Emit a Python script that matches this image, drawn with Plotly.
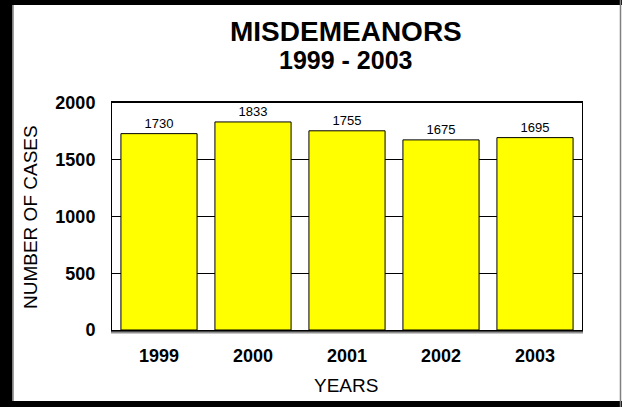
import plotly.graph_objects as go

years = ["1999", "2000", "2001", "2002", "2003"]
cases = [1730, 1833, 1755, 1675, 1695]
y_ticks = [0, 500, 1000, 1500, 2000]

W, H = 622, 407
L, R, T, B = 112, 40, 103, 77
PW, PH = W - L - R, H - T - B

def px(x):
    return (x - L) / PW

def py(y):
    return (H - B - y) / PH

FONT = "Liberation Sans, Arial, sans-serif"

fig = go.Figure(go.Bar(
    x=years, y=cases,
    marker=dict(color="#FFFF00", line=dict(color="#000000", width=1)),
    text=[str(v) for v in cases], textposition="outside",
    textfont=dict(family=FONT, size=13, color="#000000"),
    cliponaxis=False,
))

shapes = [
    # outer frame
    dict(type="rect", xref="paper", yref="paper", x0=px(-1), x1=px(12.5), y0=py(-1), y1=py(H + 1),
         fillcolor="#000000", line=dict(width=0), layer="above"),
    dict(type="rect", xref="paper", yref="paper", x0=px(-1), x1=px(W + 1), y0=py(-1), y1=py(5),
         fillcolor="#000000", line=dict(width=0), layer="above"),
    dict(type="rect", xref="paper", yref="paper", x0=px(-1), x1=px(W + 1), y0=py(401), y1=py(H + 1),
         fillcolor="#000000", line=dict(width=0), layer="above"),
    dict(type="line", xref="paper", yref="paper", x0=px(620.5), x1=px(620.5), y0=py(0), y1=py(H),
         line=dict(color="#808080", width=1.5), layer="above"),
    dict(type="line", xref="paper", yref="paper", x0=px(13.5), x1=px(13.5), y0=py(5), y1=py(401),
         line=dict(color="#A0A0A0", width=1), layer="above"),
    # floor shadow
    dict(type="line", xref="paper", yref="paper", x0=px(111), x1=px(583), y0=py(332.5), y1=py(332.5),
         line=dict(color="#909090", width=2), layer="above"),
]

annotations = [
    dict(text="<b>MISDEMEANORS</b>", xref="paper", yref="paper", x=px(346), y=py(31.5),
         xanchor="center", yanchor="middle", showarrow=False,
         font=dict(family=FONT, size=28, color="#000000")),
    dict(text="<b>1999 - 2003</b>", xref="paper", yref="paper", x=px(345), y=py(60),
         xanchor="center", yanchor="middle", showarrow=False,
         font=dict(family=FONT, size=25, color="#000000")),
    dict(text="NUMBER OF CASES", xref="paper", yref="paper", x=px(30), y=py(217),
         xanchor="center", yanchor="middle", showarrow=False, textangle=-90,
         font=dict(family=FONT, size=19, color="#000000")),
    dict(text="YEARS", xref="paper", yref="paper", x=px(346), y=py(385),
         xanchor="center", yanchor="middle", showarrow=False,
         font=dict(family=FONT, size=19, color="#000000")),
]

fig.update_layout(
    width=W, height=H,
    margin=dict(l=L, r=R, t=T, b=B, pad=0),
    paper_bgcolor="#FFFFFF", plot_bgcolor="#FFFFFF",
    bargap=0.19,
    showlegend=False,
    shapes=shapes,
    annotations=annotations,
    xaxis=dict(
        type="category",
        showline=True, linecolor="#000000", linewidth=2, mirror=True,
        showgrid=False, ticks="", ticklabelstandoff=8,
        tickfont=dict(family=FONT, size=18, color="#000000", weight="bold"),
    ),
    yaxis=dict(
        range=[0, 2000], tickvals=y_ticks, ticktext=[str(v) for v in y_ticks],
        showline=True, linecolor="#000000", linewidth=1, mirror=True,
        showgrid=True, gridcolor="#000000", gridwidth=1,
        zeroline=False, ticks="", ticklabelstandoff=12,
        tickfont=dict(family=FONT, size=18, color="#000000", weight="bold"),
    ),
)

fig.write_html(
    "out.html",
    config={"displayModeBar": False},
    post_script="document.body.style.margin='0';document.body.style.padding='0';document.body.style.overflow='hidden';",
)
